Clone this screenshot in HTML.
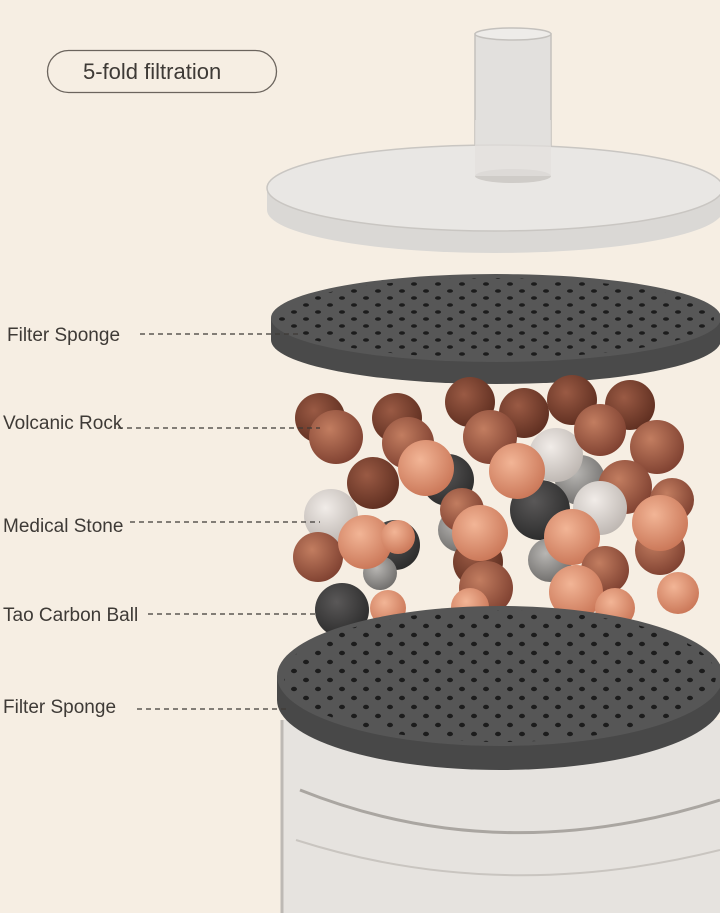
<!DOCTYPE html>
<html><head><meta charset="utf-8"><style>
html,body{margin:0;padding:0;background:#f6eee3;}
svg{display:block}
text{font-family:"Liberation Sans",sans-serif;fill:#3e3a36}
</style></head><body>
<svg width="720" height="913" viewBox="0 0 720 913" xmlns="http://www.w3.org/2000/svg">
<defs>
<radialGradient id="D" cx="0.38" cy="0.35" r="0.7"><stop offset="0" stop-color="#9a5a44"/><stop offset="1" stop-color="#5e2e20"/></radialGradient>
<radialGradient id="M" cx="0.38" cy="0.35" r="0.7"><stop offset="0" stop-color="#c27d60"/><stop offset="1" stop-color="#7e4030"/></radialGradient>
<radialGradient id="O" cx="0.4" cy="0.35" r="0.7"><stop offset="0" stop-color="#f2b596"/><stop offset="1" stop-color="#c97556"/></radialGradient>
<radialGradient id="G" cx="0.4" cy="0.35" r="0.7"><stop offset="0" stop-color="#b8b6b3"/><stop offset="1" stop-color="#6e6c6a"/></radialGradient>
<radialGradient id="W" cx="0.4" cy="0.35" r="0.7"><stop offset="0" stop-color="#f1ece8"/><stop offset="1" stop-color="#bcb5b0"/></radialGradient>
<radialGradient id="K" cx="0.4" cy="0.35" r="0.7"><stop offset="0" stop-color="#5a5858"/><stop offset="1" stop-color="#2a2a2a"/></radialGradient>
<pattern id="holes" width="24" height="14" patternUnits="userSpaceOnUse">
<ellipse cx="6" cy="4" rx="3" ry="1.8" fill="#1c1c1c"/><ellipse cx="18" cy="11" rx="3" ry="1.8" fill="#1c1c1c"/>
</pattern>
<pattern id="holes2" width="24" height="18" patternUnits="userSpaceOnUse">
<ellipse cx="6" cy="5" rx="3" ry="2.2" fill="#1c1c1c"/><ellipse cx="18" cy="14" rx="3" ry="2.2" fill="#1c1c1c"/>
</pattern>
</defs>
<rect width="720" height="913" fill="#f6eee3"/>

<!-- container -->
<path d="M282 720 L282 913 L720 913 L720 720 Z" fill="#e6e3df"/>
<path d="M282 720 L282 913" stroke="#bdb9b4" stroke-width="3"/>
<path d="M300 790 Q500 870 720 800" stroke="#aaa6a1" stroke-width="3" fill="none"/>
<path d="M296 840 Q500 905 720 850" stroke="#c9c5c0" stroke-width="2" fill="none"/>

<!-- tube behind lid -->
<rect x="475" y="34" width="76" height="150" fill="#e2e0dd" stroke="#c4c1bd" stroke-width="1.5"/>
<ellipse cx="513" cy="34" rx="38" ry="6" fill="#eeece9" stroke="#c4c1bd" stroke-width="1.5"/>

<!-- lid -->
<path d="M267 188 L267 210 A228 43 0 0 0 723 210 L723 188 Z" fill="#dad8d5"/>
<ellipse cx="495" cy="188" rx="228" ry="43" fill="#e9e7e4" stroke="#c9c6c2" stroke-width="1.5"/>
<ellipse cx="513" cy="176" rx="38" ry="7" fill="#cfccc8"/>
<rect x="475" y="120" width="76" height="56" fill="#e2e0dd" opacity="0.7"/>

<!-- top sponge -->
<path d="M271 318 L271 340 A225 44 0 0 0 721 340 L721 318 Z" fill="#4a4a4a"/>
<ellipse cx="496" cy="318" rx="225" ry="44" fill="#575757"/>
<ellipse cx="496" cy="318" rx="218" ry="40" fill="url(#holes)"/>

<!-- balls -->
<g>
<circle cx="320" cy="418" r="25" fill="url(#D)"/>
<circle cx="397" cy="418" r="25" fill="url(#D)"/>
<circle cx="470" cy="402" r="25" fill="url(#D)"/>
<circle cx="524" cy="413" r="25" fill="url(#D)"/>
<circle cx="572" cy="400" r="25" fill="url(#D)"/>
<circle cx="630" cy="405" r="25" fill="url(#D)"/>
<circle cx="580" cy="480" r="25" fill="url(#G)"/>
<circle cx="460" cy="530" r="22" fill="url(#G)"/>
<circle cx="540" cy="510" r="30" fill="url(#K)"/>
<circle cx="395" cy="545" r="25" fill="url(#K)"/>
<circle cx="336" cy="437" r="27" fill="url(#M)"/>
<circle cx="408" cy="443" r="26" fill="url(#M)"/>
<circle cx="490" cy="437" r="27" fill="url(#M)"/>
<circle cx="556" cy="455" r="27" fill="url(#W)"/>
<circle cx="600" cy="430" r="26" fill="url(#M)"/>
<circle cx="373" cy="483" r="26" fill="url(#D)"/>
<circle cx="448" cy="480" r="26" fill="url(#K)"/>
<circle cx="426" cy="468" r="28" fill="url(#O)"/>
<circle cx="517" cy="471" r="28" fill="url(#O)"/>
<circle cx="657" cy="447" r="27" fill="url(#M)"/>
<circle cx="672" cy="500" r="22" fill="url(#M)"/>
<circle cx="625" cy="487" r="27" fill="url(#M)"/>
<circle cx="600" cy="508" r="27" fill="url(#W)"/>
<circle cx="331" cy="516" r="27" fill="url(#W)"/>
<circle cx="318" cy="557" r="25" fill="url(#M)"/>
<circle cx="380" cy="573" r="17" fill="url(#G)"/>
<circle cx="365" cy="542" r="27" fill="url(#O)"/>
<circle cx="398" cy="537" r="17" fill="url(#O)"/>
<circle cx="462" cy="510" r="22" fill="url(#M)"/>
<circle cx="478" cy="562" r="25" fill="url(#D)"/>
<circle cx="480" cy="533" r="28" fill="url(#O)"/>
<circle cx="550" cy="560" r="22" fill="url(#G)"/>
<circle cx="486" cy="588" r="27" fill="url(#M)"/>
<circle cx="572" cy="537" r="28" fill="url(#O)"/>
<circle cx="605" cy="570" r="24" fill="url(#M)"/>
<circle cx="660" cy="550" r="25" fill="url(#M)"/>
<circle cx="660" cy="523" r="28" fill="url(#O)"/>
<circle cx="576" cy="592" r="27" fill="url(#O)"/>
<circle cx="678" cy="593" r="21" fill="url(#O)"/>
<circle cx="342" cy="610" r="27" fill="url(#K)"/>
<circle cx="388" cy="608" r="18" fill="url(#O)"/>
<circle cx="470" cy="607" r="19" fill="url(#O)"/>
<circle cx="615" cy="608" r="20" fill="url(#O)"/>
</g>

<!-- bottom sponge -->
<path d="M277 676 L277 700 A223 70 0 0 0 723 700 L723 676 Z" fill="#484848"/>
<ellipse cx="500" cy="676" rx="223" ry="70" fill="#565656"/>
<ellipse cx="500" cy="676" rx="216" ry="66" fill="url(#holes2)"/>

<!-- pill -->
<rect x="47.5" y="50.5" width="229" height="42" rx="21" fill="none" stroke="#6b645d" stroke-width="1.3"/>
<text x="83" y="79" font-size="22">5-fold filtration</text>

<!-- labels -->
<g font-size="19">
<text x="7" y="341">Filter Sponge</text>
<text x="3" y="429">Volcanic Rock</text>
<text x="3" y="532">Medical Stone</text>
<text x="3" y="621">Tao Carbon Ball</text>
<text x="3" y="713">Filter Sponge</text>
</g>
<g stroke="#3e3a36" stroke-width="1.3" stroke-dasharray="5,4" fill="none">
<line x1="140" y1="334" x2="300" y2="334"/>
<line x1="118" y1="428" x2="320" y2="428"/>
<line x1="130" y1="522" x2="320" y2="522"/>
<line x1="148" y1="614" x2="318" y2="614"/>
<line x1="137" y1="709" x2="290" y2="709"/>
</g>
</svg>
</body></html>
